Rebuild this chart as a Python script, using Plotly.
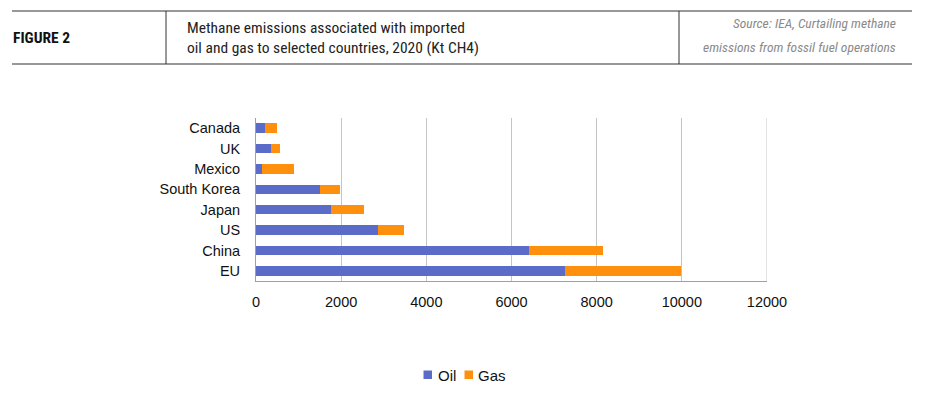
import plotly.graph_objects as go

countries = ["EU", "China", "US", "Japan", "South Korea", "Mexico", "UK", "Canada"]
oil = [7260, 6420, 2865, 1750, 1495, 150, 345, 200]
gas = [2730, 1730, 610, 790, 470, 750, 215, 295]
x_ticks = [0, 2000, 4000, 6000, 8000, 10000, 12000]

OFF = 8  # default body margin of the page
W, H = 938 - OFF, 399 - OFF
L, R, T, B = 256 - OFF, 767 - OFF, 118 - OFF, 281 - OFF
pw, ph = R - L, B - T

OIL_C, GAS_C = "#5A6CC8", "#FF900E"

def px(x):
    return (x - OFF - L) / pw

def py(y):
    return (B - (y - OFF)) / ph

fig = go.Figure()
fig.add_trace(go.Bar(y=countries, x=oil, name="Oil", orientation="h",
                     marker=dict(color=OIL_C, line=dict(width=0))))
fig.add_trace(go.Bar(y=countries, x=gas, name="Gas", orientation="h",
                     marker=dict(color=GAS_C, line=dict(width=0))))

hdr_font = "Liberation Sans Narrow, Arial Narrow, Roboto Condensed, sans-serif"
body_font = "Liberation Sans, Arial, sans-serif"
shapes = [
    dict(type="line", xref="paper", yref="paper", x0=px(12), x1=px(912), y0=py(11), y1=py(11),
         line=dict(color="#333333", width=1.2)),
    dict(type="line", xref="paper", yref="paper", x0=px(12), x1=px(912), y0=py(64), y1=py(64),
         line=dict(color="#333333", width=1.2)),
    dict(type="line", xref="paper", yref="paper", x0=px(166), x1=px(166), y0=py(11), y1=py(64),
         line=dict(color="#333333", width=1)),
    dict(type="line", xref="paper", yref="paper", x0=px(679), x1=px(679), y0=py(11), y1=py(64),
         line=dict(color="#333333", width=1)),
    # gridline at the right edge (12000)
    dict(type="line", xref="x", yref="paper", x0=x_ticks[-1], x1=x_ticks[-1], y0=0, y1=1,
         line=dict(color="#C4C4C4", width=1)),
    # legend swatches
    dict(type="rect", xref="paper", yref="paper", x0=px(423.5), x1=px(432), y0=py(379), y1=py(370.5),
         fillcolor=OIL_C, line=dict(width=0)),
    dict(type="rect", xref="paper", yref="paper", x0=px(464.5), x1=px(473), y0=py(379), y1=py(370.5),
         fillcolor=GAS_C, line=dict(width=0)),
]
annotations = [
    dict(text="<b>FIGURE 2</b>", xref="paper", yref="paper", x=px(11), y=py(38),
         xanchor="left", yanchor="middle", showarrow=False,
         font=dict(family=hdr_font, size=15.5, color="#111111")),
    dict(text="Methane emissions associated with imported<br>oil and gas to selected countries, 2020 (Kt CH4)",
         xref="paper", yref="paper", x=px(185), y=py(38), xanchor="left", yanchor="middle",
         align="left", showarrow=False,
         font=dict(family=hdr_font, size=15.5, color="#222222")),
    dict(text="<i>Source: IEA, Curtailing methane</i>", xref="paper", yref="paper", x=px(898), y=py(23),
         xanchor="right", yanchor="middle", showarrow=False,
         font=dict(family=hdr_font, size=13.5, color="#8a8a8a")),
    dict(text="<i>emissions from fossil fuel operations</i>", xref="paper", yref="paper", x=px(898), y=py(47),
         xanchor="right", yanchor="middle", showarrow=False,
         font=dict(family=hdr_font, size=13.5, color="#8a8a8a")),
    dict(text="Oil", xref="paper", yref="paper", x=px(436), y=py(375), xanchor="left", yanchor="middle",
         showarrow=False, font=dict(family=body_font, size=15, color="#111111")),
    dict(text="Gas", xref="paper", yref="paper", x=px(475.5), y=py(375), xanchor="left", yanchor="middle",
         showarrow=False, font=dict(family=body_font, size=15, color="#111111")),
]

fig.update_layout(
    width=W, height=H,
    margin=dict(l=L, r=W - R, t=T, b=H - B, pad=0),
    barmode="stack", bargap=0.53,
    plot_bgcolor="white", paper_bgcolor="white",
    font=dict(family=body_font, size=14, color="#111111"),
    xaxis=dict(range=[0, 12000], tickvals=x_ticks, ticktext=[str(v) for v in x_ticks],
               showgrid=True, gridcolor="#C4C4C4", gridwidth=1, zeroline=False,
               showline=True, linecolor="#A0A0A0", linewidth=1,
               ticks="", ticklabelstandoff=8, tickfont=dict(size=14.5)),
    yaxis=dict(categoryorder="array", categoryarray=countries, showgrid=False,
               showline=True, linecolor="#A0A0A0", linewidth=1, ticks="",
               ticklabelstandoff=12, tickfont=dict(size=14.5), zeroline=False),
    shapes=shapes, annotations=annotations,
    showlegend=False,
)

fig.write_html("out.html")
